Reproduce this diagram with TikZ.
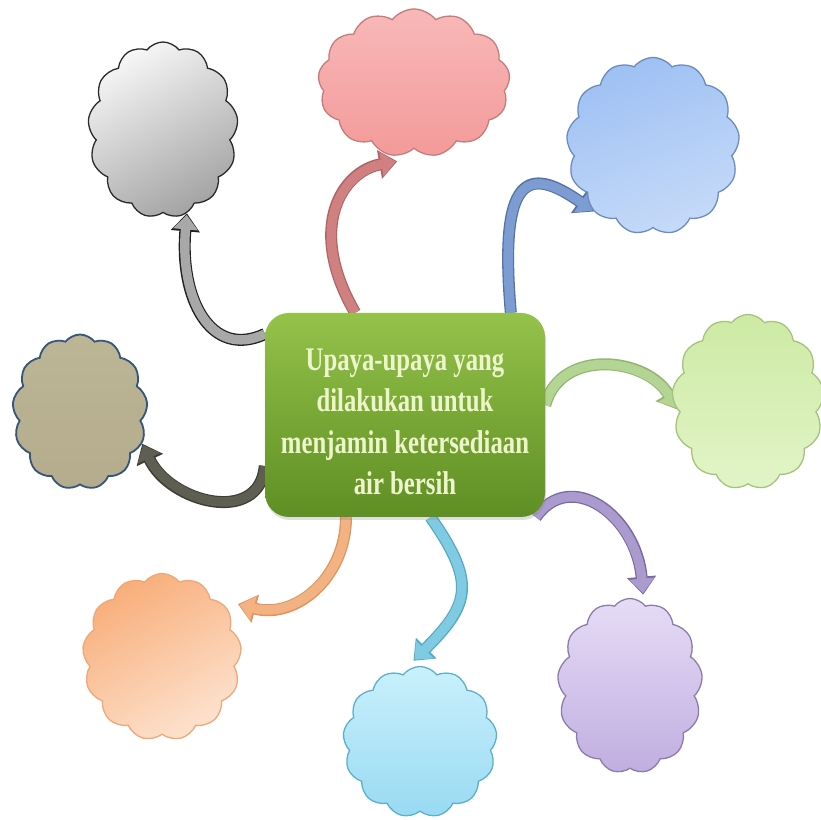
\documentclass[tikz,border=0pt]{standalone}
\usepackage{fontspec}
\newfontfamily\boxfont[FakeStretch=0.75]{Liberation Serif}
\usetikzlibrary{shapes.symbols,arrows.meta,shadows}
\pgfdeclarelayer{bg}
\pgfsetlayers{bg,main}
\definecolor{grayA}{HTML}{F6F6F6}\definecolor{grayB}{HTML}{A4A4A4}\definecolor{grayD}{HTML}{2A2A2A}
\definecolor{pinkA}{HTML}{F8B8B8}\definecolor{pinkB}{HTML}{F49A9A}\definecolor{pinkD}{HTML}{C47C7C}
\definecolor{blueA}{HTML}{9EC0F4}\definecolor{blueB}{HTML}{C6DAF8}\definecolor{blueD}{HTML}{6C8CC0}
\definecolor{greenA}{HTML}{CDEAA4}\definecolor{greenB}{HTML}{E2F4C8}\definecolor{greenD}{HTML}{A4C47C}
\definecolor{tanA}{HTML}{BCB596}\definecolor{tanB}{HTML}{B4AC8C}\definecolor{tanD}{HTML}{35557A}
\definecolor{orangeA}{HTML}{F8AE7A}\definecolor{orangeB}{HTML}{FDE2CE}\definecolor{orangeD}{HTML}{EEA878}
\definecolor{cyanA}{HTML}{CAF0FC}\definecolor{cyanB}{HTML}{98DAF2}\definecolor{cyanD}{HTML}{5CB0CC}
\definecolor{purpleA}{HTML}{E6DCF6}\definecolor{purpleB}{HTML}{C0AEE0}\definecolor{purpleD}{HTML}{8C7CAC}
\definecolor{boxA}{HTML}{94C24A}\definecolor{boxB}{HTML}{5F8E24}
\definecolor{boxtext}{HTML}{EEF5CC}
% arrow colours
\definecolor{agray}{HTML}{A8A8A8}\definecolor{agrayD}{HTML}{202020}
\definecolor{apink}{HTML}{D08080}\definecolor{apinkD}{HTML}{B06464}
\definecolor{ablue}{HTML}{7C9CD2}\definecolor{ablueD}{HTML}{5272A8}
\definecolor{agreen}{HTML}{B4D494}\definecolor{agreenD}{HTML}{94B474}
\definecolor{atan}{HTML}{5E5E52}\definecolor{atanD}{HTML}{3E3E36}
\definecolor{aorange}{HTML}{F2B282}\definecolor{aorangeD}{HTML}{E09462}
\definecolor{acyan}{HTML}{80CAE2}\definecolor{acyanD}{HTML}{52AACA}
\definecolor{apurple}{HTML}{AA9ACE}\definecolor{apurpleD}{HTML}{7A6AA2}
\tikzset{
  cloudnode/.style={cloud, cloud puffs=13, cloud puff arc=105, cloud ignores aspect,
    inner sep=0pt, line width=1.3pt},
  arrout/.style={line width=12pt, -{Triangle[length=18pt,width=28pt]}},
  arrin/.style={line width=9.4pt, shorten >=1.6pt, -{Triangle[length=14.5pt,width=24pt]}},
  centerbox/.style={rounded corners=24pt, minimum width=280pt, minimum height=204pt,
    inner sep=0pt, top color=boxA, bottom color=boxB, draw=none,
    drop shadow={opacity=0.25, shadow xshift=1pt, shadow yshift=-3pt}},
  boxlabel/.style={align=center, text=boxtext,
    font=\boxfont\bfseries\fontsize{33}{41.5}\selectfont}
}
\begin{document}
\begin{tikzpicture}[x=1pt,y=1pt]
\useasboundingbox (0,0) rectangle (820,820);
\begin{pgfonlayer}{bg}
\fill[white] (0,0) rectangle (820,820);
\end{pgfonlayer}

% clouds
\node[cloudnode, minimum width=150pt, minimum height=176pt, top color=grayA, bottom color=grayB, shading angle=30, draw=grayD] (gray) at (163,690) {};
\node[cloudnode, minimum width=192pt, minimum height=148pt, top color=pinkA, bottom color=pinkB, draw=pinkD] (pink) at (414,737) {};
\node[cloudnode, minimum width=173pt, minimum height=177pt, top color=blueA, bottom color=blueB, shading angle=20, draw=blueD] (blue) at (653,674) {};
\node[cloudnode, minimum width=152pt, minimum height=175pt, top color=greenA, bottom color=greenB, draw=greenD] (green) at (748,418) {};
\node[cloudnode, minimum width=135pt, minimum height=155pt, top color=tanA, bottom color=tanB, draw=tanD, line width=1.8pt] (tan) at (80,408) {};
\node[cloudnode, minimum width=159pt, minimum height=167pt, top color=orangeA, bottom color=orangeB, shading angle=30, draw=orangeD] (orange) at (162,163) {};
\node[cloudnode, minimum width=154pt, minimum height=151pt, top color=cyanA, bottom color=cyanB, draw=cyanD] (cyan) at (420,78) {};
\node[cloudnode, minimum width=145pt, minimum height=175pt, top color=purpleA, bottom color=purpleB, draw=purpleD] (purple) at (630,134) {};

% central box
\node[centerbox] (box) at (405,405) {};
\node[boxlabel] (label) at (405,398) {Upaya-upaya yang\\dilakukan untuk\\menjamin ketersediaan\\air bersih};

% connectors
\begin{pgfonlayer}{bg}
\draw[arrout, agrayD] (box.150) .. controls +(205:60) and +(265:85) .. (gray.-74);
\draw[arrin, agray]   (box.150) .. controls +(205:60) and +(265:85) .. (gray.-74);

\draw[arrout, apinkD] (box.116) .. controls +(120:100) and +(190:55) .. ([yshift=-6pt,xshift=-4pt]pink.-100);
\draw[arrin, apink]   (box.116) .. controls +(120:100) and +(190:55) .. ([yshift=-6pt,xshift=-4pt]pink.-100);

\draw[arrout, ablueD] (box.44) .. controls +(95:140) and +(145:80) .. (blue.228);
\draw[arrin, ablue]   (box.44) .. controls +(95:140) and +(145:80) .. (blue.228);

\draw[arrout, agreenD] (box.4) .. controls +(75:60) and +(120:60) .. (green.186);
\draw[arrin, agreen]   (box.4) .. controls +(75:60) and +(120:60) .. (green.186);

\draw[arrout, atanD] (box.200) .. controls +(265:60) and +(295:65) .. (tan.-27);
\draw[arrin, atan]   (box.200) .. controls +(265:60) and +(295:65) .. (tan.-27);

\draw[arrout, aorangeD] (box.240) .. controls +(270:60) and +(345:60) .. ([xshift=10pt,yshift=5pt]orange.36);
\draw[arrin, aorange]   (box.240) .. controls +(270:60) and +(345:60) .. ([xshift=10pt,yshift=5pt]orange.36);

\draw[arrout, acyanD] (box.284) .. controls +(305:80) and +(45:80) .. ([yshift=6pt]cyan.95);
\draw[arrin, acyan]   (box.284) .. controls +(305:80) and +(45:80) .. ([yshift=6pt]cyan.95);

\draw[arrout, apurpleD] (box.322) .. controls +(55:60) and +(95:80) .. ([yshift=8pt]purple.81);
\draw[arrin, apurple]   (box.322) .. controls +(55:60) and +(95:80) .. ([yshift=8pt]purple.81);
\end{pgfonlayer}
\end{tikzpicture}
\end{document}
